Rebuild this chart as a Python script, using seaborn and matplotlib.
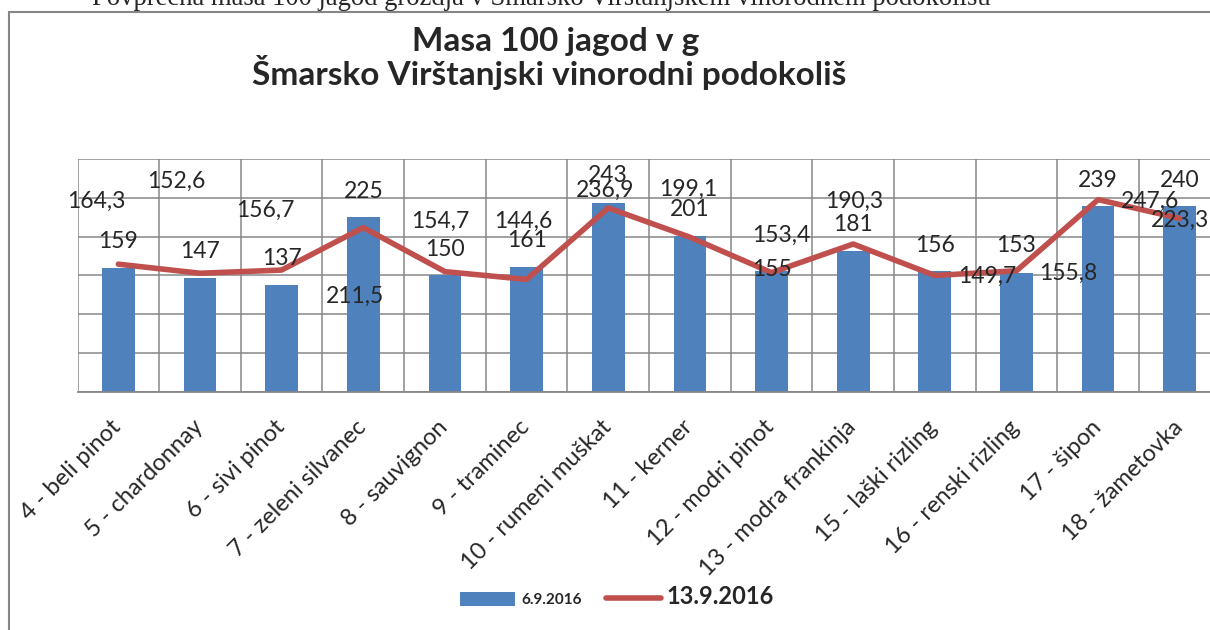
import numpy as np
import matplotlib
matplotlib.use("Agg")
import matplotlib.pyplot as plt
import matplotlib.transforms as mtransforms
import seaborn as sns
from matplotlib.patches import Patch, Rectangle
from matplotlib.lines import Line2D

# podatki - masa 100 jagod (g)
sorte = ["4 - beli pinot", "5 - chardonnay", "6 - sivi pinot", "7 - zeleni silvanec",
         "8 - sauvignon", "9 - traminec", "10 - rumeni muškat", "11 - kerner",
         "12 - modri pinot", "13 - modra frankinja", "15 - laški rizling",
         "16 - renski rizling", "17 - šipon", "18 - žametovka"]
masa_6_9 = [159, 147, 137, 225, 150, 161, 243, 201, 155, 181, 156, 153, 239, 240]
masa_13_9 = [164.3, 152.6, 156.7, 211.5, 154.7, 144.6, 236.9, 199.1, 153.4, 190.3,
             149.7, 155.8, 247.6, 223.3]
datumi = ["6.9.2016", "13.9.2016"]

# where the data labels sit (offsets from the point, in data units)
bar_lbl_dy = [34, 33, 34, 33, 33, 34, 36, 34, 3, 35, 33, 35, 33, 32]
line_lbl_dx = [-0.27, -0.29, -0.2, -0.1, -0.06, -0.04, -0.04, -0.02, 0.12, 0.01,
               0.64, 0.63, 0.64, 0.0]
line_lbl_dy = [80.6, 118.1, 77.5, -89.2, 64.4, 74.5, 22.2, 61.8, 48.5, 54.6,
               -1.6, -3.3, -2.7, -2]

bar_col = "#4F81BD"
line_col = "#C0504D"
grid_col = "#878787"

sns.set_style("white")
plt.rcParams['font.family'] = ['Lato', 'DejaVu Sans']

W, H = 1210, 630
fig = plt.figure(figsize=(W / 100, H / 100), dpi=100)
ax = fig.add_axes([77.5 / W, (H - 391.5) / H, 1143.1 / W, 232.5 / H])

sns.barplot(x=sorte, y=masa_6_9, color=bar_col, saturation=1, width=0.4,
            linewidth=0, errorbar=None, ax=ax, zorder=2)
sns.lineplot(x=sorte, y=masa_13_9, sort=False, color=line_col, lw=4, ax=ax, zorder=3)
for ln in ax.lines:
    ln.set_solid_joinstyle('round')
    ln.set_solid_capstyle('round')

ax.set_xlim(-0.5, len(sorte) - 0.5)
ax.set_ylim(0, 300)
ax.set_xlabel('')
ax.set_ylabel('')

# grid
ax.set_axisbelow(True)
ax.set_yticks(np.arange(0, 301, 50))
ax.yaxis.grid(True, color=grid_col, lw=1.1)
ax.set_xticks(np.arange(-0.5, len(sorte), 1), minor=True)
ax.xaxis.grid(True, which='minor', color=grid_col, lw=1.1)
ax.xaxis.grid(False, which='major')
ax.tick_params(axis='y', left=False, labelleft=False)
ax.tick_params(axis='x', which='both', length=0)
for s in ['left', 'right', 'top']:
    ax.spines[s].set_visible(False)
ax.spines['bottom'].set_color(grid_col)
ax.spines['bottom'].set_linewidth(1.3)

# category labels
ax.set_xticks(range(len(sorte)))
ax.set_xticklabels(sorte, rotation=45, ha='right', va='top', rotation_mode='anchor',
                   fontsize=17)
ax.tick_params(axis='x', pad=18)
shift = mtransforms.ScaledTranslation(-8 / 100, 0, fig.dpi_scale_trans)
for lbl in ax.get_xticklabels():
    lbl.set_transform(lbl.get_transform() + shift)

# data labels
for i, v in enumerate(masa_6_9):
    ax.text(i, v + bar_lbl_dy[i], str(v), ha='center', va='center', fontsize=16.5, zorder=5)
for i, v in enumerate(masa_13_9):
    ax.text(i + line_lbl_dx[i], v + line_lbl_dy[i], f"{v:.1f}".replace('.', ','),
            ha='center', va='center', fontsize=16.5, zorder=5)

# title
fig.text(556 / W, 1 - 50.5 / H, "Masa 100 jagod v g", ha='center', va='baseline',
         fontsize=24, weight='bold')
fig.text(549.5 / W, 1 - 85 / H, "Šmarsko Virštanjski vinorodni podokoliš", ha='center',
         va='baseline', fontsize=24, weight='bold')

# text of the page above the chart (cut off)
fig.text(92 / W, 1 - 5 / H,
         "Povprečna masa 100 jagod grozdja v Šmarsko Virštanjskem vinorodnem podokolišu",
         ha='left', va='baseline', fontsize=19.2, family='Liberation Serif')

# chart border
fig.add_artist(Rectangle((9 / W, -0.1), 2, 1 - 12 / H + 0.1, transform=fig.transFigure,
                         fill=False, ec='#868686', lw=1.5))

# legend
handles = [Patch(facecolor=bar_col, edgecolor='none'),
           Line2D([], [], color=line_col, lw=4, solid_capstyle='round')]
leg = fig.legend(handles, datumi, loc='center', bbox_to_anchor=(617 / W, 1 - 597 / H),
                 ncol=2, frameon=False, prop={'weight': 'bold', 'size': 11},
                 handlelength=3.6, handleheight=1.0, handletextpad=0.4, columnspacing=1.6)
leg.get_texts()[1].set_fontsize(17)

fig.savefig("out.png", dpi=100)
